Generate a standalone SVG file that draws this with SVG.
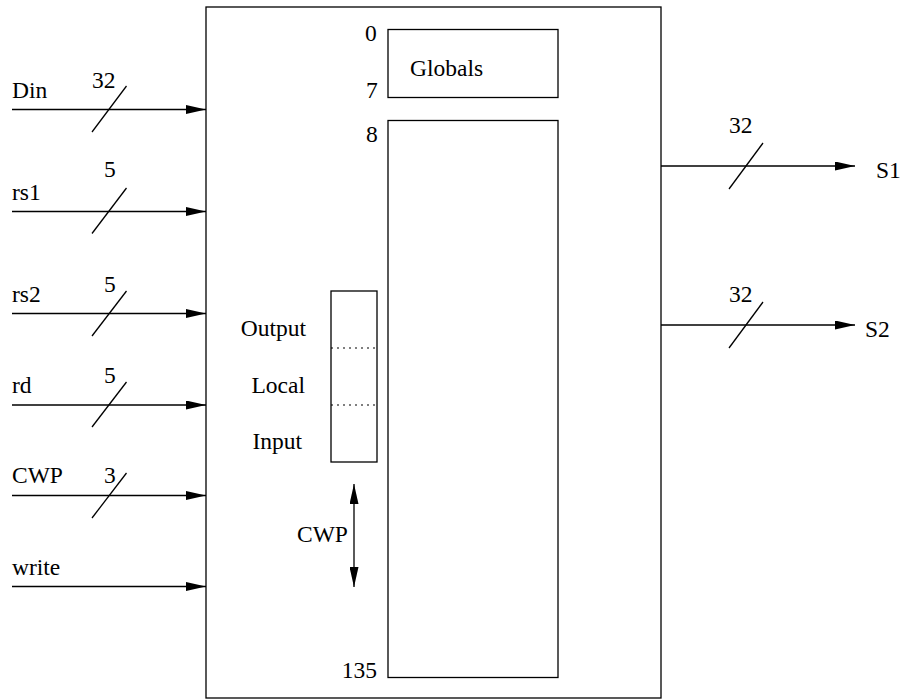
<svg xmlns="http://www.w3.org/2000/svg" width="902" height="700" viewBox="0 0 902 700">
<style>
.t{font-family:"Liberation Serif",Times,"Times New Roman",serif;font-size:23.5px;fill:#000}
.ln{stroke:#000;stroke-width:1.3;fill:none}
.box{stroke:#000;stroke-width:1.3;fill:none}
.dot{stroke:#000;stroke-width:1.2;stroke-dasharray:2 4;fill:none}
</style>
<defs>
<marker id="ah" viewBox="0 0 20 9" refX="20" refY="4.5" markerWidth="20" markerHeight="9" markerUnits="userSpaceOnUse" orient="auto-start-reverse">
<path d="M0,0 L20,4.5 L0,9 Z" fill="#000"/>
</marker>
</defs>
<rect width="902" height="700" fill="#fff"/>
<g id="regfile">
<rect class="box" x="206" y="7" width="455" height="691"/>
</g>
<g id="globals">
<rect class="box" x="388" y="29.5" width="170" height="68"/>
<text class="t" x="410" y="76">Globals</text>
<text class="t" x="365" y="41">0</text>
<text class="t" x="366" y="98">7</text>
</g>
<g id="windows">
<rect class="box" x="388" y="120.5" width="170" height="557"/>
<text class="t" x="366" y="142">8</text>
<text class="t" x="377" y="678" text-anchor="end">135</text>
</g>
<g id="window">
<rect class="box" x="331" y="291" width="46" height="171"/>
<line class="dot" x1="331" y1="348" x2="377" y2="348"/>
<line class="dot" x1="331" y1="405" x2="377" y2="405"/>
<text class="t" x="306" y="336" text-anchor="end">Output</text>
<text class="t" x="305" y="393" text-anchor="end">Local</text>
<text class="t" x="302" y="449" text-anchor="end">Input</text>
</g>
<g id="cwp-pointer">
<text class="t" x="297" y="542">CWP</text>
</g>
<g id="connectors">
<line class="ln" x1="354" y1="484" x2="354" y2="587" marker-start="url(#ah)" marker-end="url(#ah)"/>
<line class="ln" x1="12" y1="109.5" x2="206" y2="109.5" marker-end="url(#ah)"/>
<line class="ln" x1="92" y1="132" x2="126.5" y2="86"/>
<line class="ln" x1="12" y1="211.5" x2="206" y2="211.5" marker-end="url(#ah)"/>
<line class="ln" x1="92" y1="233.5" x2="126.5" y2="188"/>
<line class="ln" x1="12" y1="313.5" x2="206" y2="313.5" marker-end="url(#ah)"/>
<line class="ln" x1="92" y1="336" x2="126.5" y2="291"/>
<line class="ln" x1="12" y1="405" x2="206" y2="405" marker-end="url(#ah)"/>
<line class="ln" x1="92" y1="427" x2="126.5" y2="382"/>
<line class="ln" x1="12" y1="495.5" x2="206" y2="495.5" marker-end="url(#ah)"/>
<line class="ln" x1="92" y1="518" x2="126.5" y2="473"/>
<line class="ln" x1="12" y1="586.5" x2="206" y2="586.5" marker-end="url(#ah)"/>
<line class="ln" x1="661" y1="166" x2="855" y2="166" marker-end="url(#ah)"/>
<line class="ln" x1="729" y1="189" x2="763" y2="143"/>
<line class="ln" x1="661" y1="325" x2="855" y2="325" marker-end="url(#ah)"/>
<line class="ln" x1="729" y1="348" x2="763" y2="302"/>
</g>
<g id="labels">
<text class="t" x="12" y="98">Din</text>
<text class="t" x="92" y="88">32</text>
<text class="t" x="12" y="200">rs1</text>
<text class="t" x="104" y="177">5</text>
<text class="t" x="12" y="302">rs2</text>
<text class="t" x="104" y="292">5</text>
<text class="t" x="12" y="393">rd</text>
<text class="t" x="104" y="383">5</text>
<text class="t" x="12" y="483">CWP</text>
<text class="t" x="104" y="483">3</text>
<text class="t" x="12" y="575">write</text>
<text class="t" x="729" y="133">32</text>
<text class="t" x="876" y="178">S1</text>
<text class="t" x="729" y="302">32</text>
<text class="t" x="865" y="337">S2</text>
</g>
</svg>
